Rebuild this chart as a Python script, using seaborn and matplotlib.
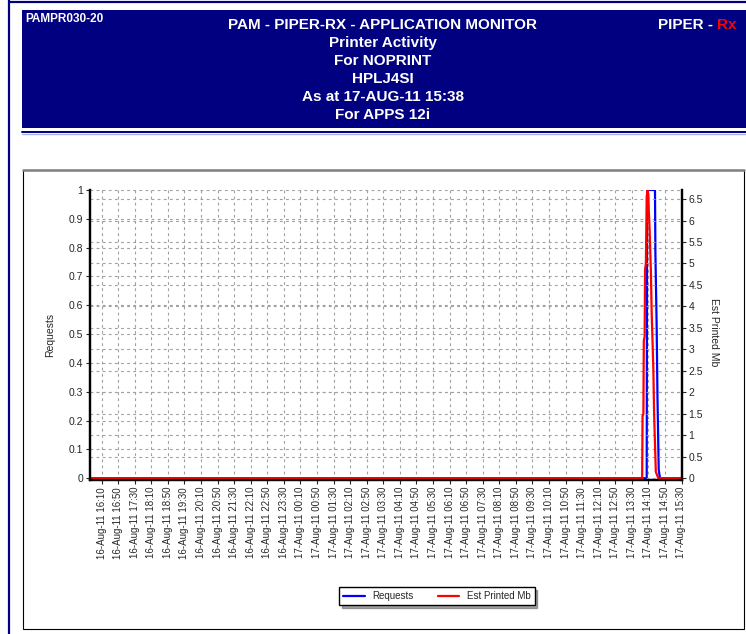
import matplotlib
matplotlib.use('Agg')
import pandas as pd
import matplotlib.pyplot as plt
import matplotlib.dates as mdates
import seaborn as sns
from matplotlib.patches import Rectangle
from matplotlib.lines import Line2D

# values
header_lines = ['PAM - PIPER-RX - APPLICATION MONITOR', 'Printer Activity', 'For NOPRINT',
                'HPLJ4SI', 'As at 17-AUG-11 15:38', 'For APPS 12i']

req_times = ['2011-08-16 15:42', '2011-08-17 14:06', '2011-08-17 14:07', '2011-08-17 14:26',
             '2011-08-17 14:27', '2011-08-17 14:30', '2011-08-17 14:32', '2011-08-17 14:35',
             '2011-08-17 14:38', '2011-08-17 15:30']
req_vals = [0, 0, 1, 1, 0.78, 0.53, 0.28, 0.03, 0, 0]

mb_times = ['2011-08-16 15:42', '2011-08-17 13:55', '2011-08-17 13:56', '2011-08-17 13:58',
            '2011-08-17 13:59', '2011-08-17 14:01', '2011-08-17 14:02', '2011-08-17 14:04',
            '2011-08-17 14:06', '2011-08-17 14:08', '2011-08-17 14:10', '2011-08-17 14:11',
            '2011-08-17 14:13', '2011-08-17 14:16', '2011-08-17 14:18', '2011-08-17 14:22',
            '2011-08-17 14:24', '2011-08-17 14:28', '2011-08-17 14:34', '2011-08-17 15:30']
mb_vals = [0, 0, 1.45, 1.5, 3.2, 3.3, 4.85, 5.0, 6.55, 6.7, 6.6, 6.25, 5.8, 4.85, 3.85,
           2.55, 1.45, 0.15, 0, 0]

left_ticks = [0, 0.1, 0.2, 0.3, 0.4, 0.5, 0.6, 0.7, 0.8, 0.9, 1]
right_ticks = [0, 0.5, 1, 1.5, 2, 2.5, 3, 3.5, 4, 4.5, 5, 5.5, 6, 6.5]
x_ticks = pd.date_range('2011-08-16 16:10', '2011-08-17 15:30', freq='40min')

req = pd.DataFrame({'time': pd.to_datetime(req_times), 'Requests': req_vals})
mb = pd.DataFrame({'time': pd.to_datetime(mb_times), 'Est Printed Mb': mb_vals})

sns.set_style('white')
plt.rcParams['font.family'] = ['Liberation Sans', 'DejaVu Sans']

W, H = 746, 634
fig = plt.figure(figsize=(W / 100, H / 100), dpi=100)


def fx(x):
    return x / W


def fy(y):
    return 1 - y / H


navy = '#000080'

# page decoration
fig.add_artist(Line2D([fx(9), fx(9)], [fy(0), fy(634)], color=navy, lw=1.6))
fig.add_artist(Line2D([fx(9), fx(746)], [fy(2), fy(2)], color=navy, lw=1.6))
fig.add_artist(Rectangle((fx(22), fy(128)), fx(746 - 22), 118 / H, color=navy, lw=0))
fig.add_artist(Line2D([fx(22), fx(746)], [fy(131.5), fy(131.5)], color=navy, lw=1.4))
fig.add_artist(Line2D([fx(22), fx(746)], [fy(133.5), fy(133.5)], color='#aab4dd', lw=1))

# header text
for i, line in enumerate(header_lines):
    fig.text(fx(383), fy(25 + 18 * i), line, color='white', fontsize=11,
             fontweight='bold', ha='center', va='center')
fig.text(fx(25), fy(19), 'PAMPR030-20', color='white', fontsize=8.5,
         fontweight='bold', ha='left', va='center')
rx = fig.text(fx(737), fy(25), 'Rx', color='red', fontsize=11, fontweight='bold',
              ha='right', va='center')
fig.canvas.draw()
rx_w = rx.get_window_extent().width
fig.text(fx(737 - rx_w), fy(25), 'PIPER - ', color='white', fontsize=11,
         fontweight='bold', ha='right', va='center')

# chart frame
fig.add_artist(Rectangle((fx(23), fy(629)), fx(744 - 23), (629 - 170) / H,
                         fill=False, edgecolor='black', lw=0.8))
fig.add_artist(Line2D([fx(23), fx(744)], [fy(170), fy(170)], color='#808080', lw=1.8))

# plot area
ax = fig.add_axes([fx(90), fy(480), fx(681.5 - 90), (480 - 190) / H])
ax2 = ax.twinx()

sns.lineplot(data=req, x='time', y='Requests', color='blue', linewidth=1.6, ax=ax)
sns.lineplot(data=mb, x='time', y='Est Printed Mb', color='red', linewidth=1.6, ax=ax2)

x0, x1 = pd.Timestamp('2011-08-16 15:42'), pd.Timestamp('2011-08-17 15:30')
ax.set_xlim(x0, x1)
ymax2 = 6.71
ax.set_ylim(-0.006, 1)
ax2.set_ylim(-0.006 * ymax2, ymax2)

ax.set_xticks(x_ticks)
ax.xaxis.set_major_formatter(mdates.DateFormatter('%d-%b-%y %H:%M'))
ax.set_yticks(left_ticks)
ax.set_yticklabels([f'{v:g}' for v in left_ticks])
ax2.set_yticks(right_ticks)
ax2.set_yticklabels([f'{v:g}' for v in right_ticks])

for lab in ax.get_xticklabels():
    lab.set_rotation(90)
ax.tick_params(axis='x', labelsize=7, length=3, width=0.8, direction='out', pad=2, bottom=True)
ax.tick_params(axis='y', labelsize=7.5, length=3, width=0.8, direction='out', pad=2, left=True)
ax2.tick_params(axis='y', labelsize=7.5, length=3, width=0.8, direction='out', pad=2, right=True)

grid_kw = dict(color='#a0a0a0', linestyle=(0, (2.5, 3)), linewidth=0.8)
ax.grid(True, axis='both', **grid_kw)
ax2.grid(True, axis='y', **grid_kw)
ax.set_axisbelow(True)

for a in (ax, ax2):
    a.spines['top'].set_visible(False)
    for s in ('left', 'right', 'bottom'):
        a.spines[s].set_linewidth(1.6)
        a.spines[s].set_color('black')
ax2.patch.set_visible(False)

ax.set_xlabel('')
ax.set_ylabel('')
ax2.set_ylabel('')
fig.text(fx(50), fy(335), 'Requests', rotation=90, fontsize=7.5, ha='center', va='center')
fig.text(fx(714), fy(332), 'Est Printed Mb', rotation=270, fontsize=7.5, ha='center', va='center')

handles = [Line2D([], [], color='blue', lw=1.6), Line2D([], [], color='red', lw=1.6)]
fig.legend(handles, ['Requests', 'Est Printed Mb'], loc='center',
           bbox_to_anchor=(fx(437), fy(596)), ncol=2, fontsize=7, frameon=True,
           fancybox=False, shadow=True, edgecolor='black', framealpha=1,
           handlelength=2.2, columnspacing=2.5, borderpad=0.4)

fig.savefig('out.png', dpi=100)
